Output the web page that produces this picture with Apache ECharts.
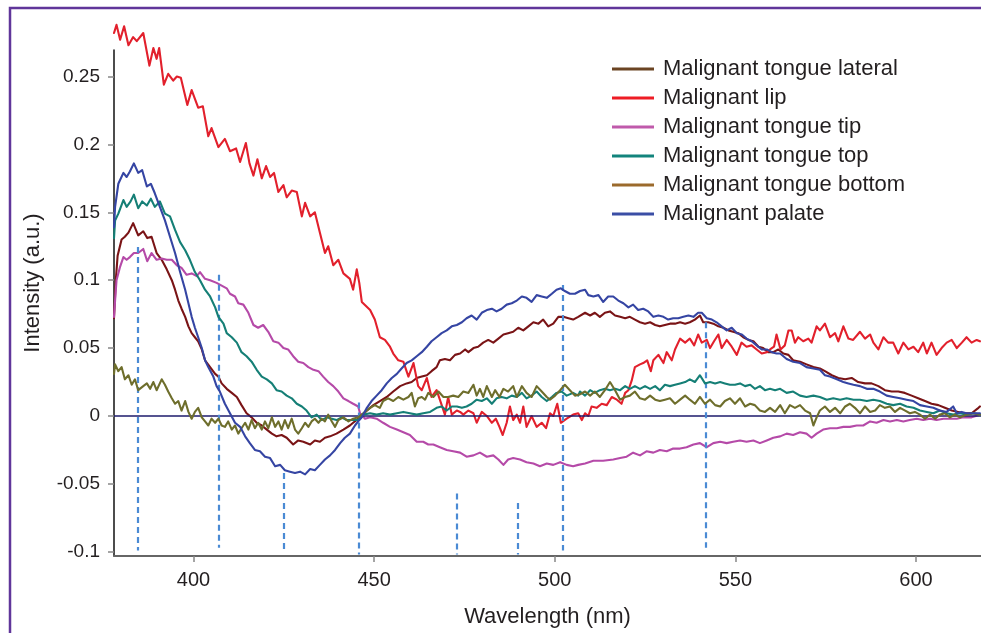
<!DOCTYPE html>
<html>
<head>
<meta charset="utf-8">
<script src="https://cdn.jsdelivr.net/npm/echarts@6/dist/echarts.min.js"></script>
<style>
html,body{margin:0;padding:0;background:#fff;}
#chart{width:981px;height:633px;}
</style>
</head>
<body>
<div id="chart"></div>
<script>
// ---- Data (wavelength nm, intensity a.u.) ----
const seriesNames = ['Malignant tongue lateral','Malignant lip','Malignant tongue tip','Malignant tongue top','Malignant tongue bottom','Malignant palate'];
const lineColors = ['#7a1416','#e2202c','#b54aa8','#157f76','#6e6e2c','#3545a3'];
const legendColors = ['#6b4423','#ee1c25','#c05aab','#12847c','#9b6a2c','#3b4ea5'];
const xTickValues = [400,450,500,550,600];
const yTickValues = [-0.1,-0.05,0,0.05,0.1,0.15,0.2,0.25];

// dashed marker lines: wavelength, top value, bottom value
const markerNm = [384.7,406.9,425.1,445.7,472.8,489.9,502.2,541.9];
const markerTop = [0.1245,0.104,-0.042,0.010,-0.057,-0.064,0.0965,0.069];
const markerBottom = [-0.099,-0.097,-0.099,-0.102,-0.102,-0.102,-0.099,-0.097];

const lateral = [[378.0,0.072],[378.5,0.100],[379.0,0.118],[380.1,0.130],[381.0,0.132],[382.0,0.135],[383.3,0.142],[384.7,0.133],[386.1,0.136],[387.2,0.131],[388.4,0.132],[389.8,0.120],[391.2,0.115],[392.6,0.108],[394.0,0.100],[394.9,0.093],[395.8,0.085],[396.7,0.079],[397.7,0.073],[398.6,0.066],[399.5,0.061],[400.4,0.058],[401.3,0.055],[402.3,0.049],[403.2,0.041],[404.6,0.036],[406.0,0.031],[406.9,0.029],[407.8,0.024],[409.2,0.020],[410.6,0.017],[412.0,0.014],[413.3,0.008],[414.7,0.002],[416.1,-0.001],[417.5,-0.005],[418.9,-0.007],[420.3,-0.010],[421.7,-0.013],[423.0,-0.015],[424.4,-0.014],[425.8,-0.016],[427.6,-0.021],[429.0,-0.018],[430.4,-0.019],[432.3,-0.021],[433.6,-0.018],[435.0,-0.019],[436.4,-0.016],[437.8,-0.015],[439.6,-0.013],[441.5,-0.010],[443.3,-0.007],[444.2,-0.005],[446.1,-0.001],[448.0,0.004],[449.8,0.008],[451.6,0.011],[453.5,0.014],[455.3,0.018],[457.2,0.022],[459.0,0.024],[460.4,0.025],[461.8,0.028],[463.2,0.029],[464.6,0.030],[465.9,0.033],[467.3,0.036],[468.2,0.041],[469.6,0.042],[471.0,0.041],[472.4,0.045],[473.8,0.046],[475.2,0.049],[476.1,0.047],[477.5,0.050],[478.8,0.051],[480.2,0.054],[481.6,0.056],[483.0,0.054],[484.4,0.057],[485.8,0.060],[487.1,0.061],[488.5,0.062],[489.9,0.065],[491.3,0.063],[492.7,0.066],[494.1,0.069],[495.5,0.068],[496.8,0.071],[498.2,0.066],[499.6,0.068],[501.0,0.073],[502.4,0.073],[503.8,0.072],[505.1,0.071],[506.5,0.073],[508.4,0.076],[509.8,0.074],[511.1,0.076],[512.5,0.073],[513.9,0.076],[515.3,0.077],[516.7,0.074],[518.1,0.073],[519.5,0.072],[520.8,0.073],[522.2,0.071],[523.6,0.069],[525.0,0.068],[526.4,0.069],[527.8,0.067],[529.1,0.066],[530.5,0.067],[531.9,0.068],[533.3,0.068],[534.7,0.069],[536.1,0.068],[537.4,0.069],[538.8,0.071],[540.2,0.074],[541.1,0.069],[542.5,0.069],[543.9,0.068],[545.3,0.066],[546.7,0.065],[548.1,0.063],[549.4,0.062],[550.8,0.061],[552.2,0.058],[553.6,0.056],[555.0,0.055],[556.4,0.051],[557.7,0.050],[559.1,0.047],[560.5,0.047],[561.9,0.049],[563.3,0.046],[564.7,0.045],[566.0,0.041],[567.9,0.040],[569.7,0.038],[571.6,0.036],[573.4,0.035],[574.8,0.033],[576.7,0.030],[578.5,0.028],[580.4,0.027],[582.2,0.028],[584.0,0.025],[585.9,0.024],[587.7,0.024],[589.6,0.022],[591.4,0.019],[593.3,0.018],[595.1,0.018],[596.9,0.017],[598.8,0.015],[600.6,0.013],[602.5,0.011],[604.3,0.009],[606.2,0.008],[608.0,0.006],[609.9,0.004],[611.7,0.003],[613.6,0.002],[615.4,0.002],[617.3,0.006],[617.7,0.007]];

const lip = [[378.0,0.282],[378.7,0.288],[379.7,0.277],[380.8,0.287],[382.0,0.273],[383.3,0.279],[384.3,0.276],[386.1,0.282],[387.8,0.258],[388.9,0.271],[389.8,0.263],[390.5,0.271],[391.8,0.244],[393.0,0.252],[394.4,0.247],[395.4,0.250],[396.5,0.249],[398.3,0.229],[399.5,0.240],[401.3,0.227],[402.6,0.228],[404.1,0.206],[405.0,0.212],[406.9,0.198],[408.7,0.204],[410.1,0.195],[411.8,0.197],[412.9,0.187],[414.5,0.201],[415.5,0.186],[416.6,0.177],[417.7,0.189],[418.9,0.175],[420.1,0.184],[421.2,0.176],[422.3,0.179],[423.5,0.165],[424.9,0.170],[425.8,0.161],[427.2,0.166],[428.6,0.165],[430.0,0.147],[430.9,0.157],[432.3,0.147],[433.6,0.150],[435.0,0.135],[436.4,0.120],[437.3,0.125],[438.7,0.111],[440.1,0.115],[441.5,0.105],[443.3,0.101],[444.2,0.093],[445.2,0.108],[445.9,0.098],[446.6,0.084],[448.9,0.078],[450.2,0.071],[451.6,0.058],[453.0,0.056],[454.4,0.051],[455.3,0.046],[456.7,0.041],[458.1,0.040],[459.5,0.029],[460.9,0.039],[462.2,0.022],[463.2,0.019],[464.6,0.028],[465.9,0.014],[467.3,0.019],[468.2,0.012],[469.6,0.001],[470.5,0.014],[471.5,0.001],[472.9,0.004],[473.8,0.003],[474.7,0.001],[476.1,0.004],[477.5,0.002],[478.4,-0.005],[479.8,0.003],[481.2,0.000],[482.6,-0.005],[483.7,-0.002],[484.7,-0.008],[485.6,-0.014],[486.7,-0.005],[487.6,0.007],[488.5,-0.003],[489.5,0.001],[490.4,-0.005],[491.3,0.007],[492.2,-0.008],[493.6,0.000],[495.0,-0.008],[496.4,-0.005],[497.6,-0.009],[498.7,0.002],[499.6,0.000],[500.7,0.009],[501.7,-0.005],[503.3,-0.002],[505.1,0.001],[506.5,0.002],[507.5,-0.003],[508.4,0.002],[509.3,0.000],[510.2,0.007],[511.6,0.006],[513.0,0.009],[514.4,0.008],[515.8,0.014],[517.2,0.012],[518.5,0.009],[519.5,0.017],[520.4,0.019],[521.3,0.026],[522.2,0.036],[523.6,0.038],[524.5,0.039],[525.6,0.041],[526.6,0.033],[527.3,0.041],[528.7,0.045],[530.1,0.039],[531.0,0.047],[532.4,0.041],[533.3,0.049],[534.7,0.057],[536.1,0.054],[537.4,0.057],[538.6,0.052],[539.7,0.060],[540.7,0.054],[542.1,0.056],[543.0,0.050],[544.1,0.055],[545.3,0.060],[546.2,0.050],[547.6,0.056],[549.0,0.051],[550.4,0.045],[551.7,0.054],[553.1,0.051],[554.5,0.052],[555.9,0.049],[557.3,0.046],[558.7,0.047],[559.6,0.049],[560.7,0.051],[561.4,0.060],[562.5,0.049],[563.7,0.052],[564.7,0.063],[565.6,0.063],[566.5,0.054],[567.4,0.058],[568.8,0.055],[570.2,0.057],[571.1,0.054],[572.5,0.066],[573.4,0.063],[574.8,0.068],[576.2,0.058],[577.6,0.061],[578.5,0.055],[579.9,0.066],[581.3,0.057],[582.6,0.056],[584.5,0.062],[585.9,0.057],[587.3,0.060],[588.2,0.054],[589.6,0.049],[591.0,0.058],[592.3,0.054],[593.7,0.054],[595.1,0.046],[596.5,0.054],[597.9,0.049],[599.3,0.051],[600.6,0.047],[602.0,0.054],[603.0,0.046],[604.3,0.054],[605.7,0.045],[607.1,0.050],[608.5,0.054],[609.9,0.056],[611.3,0.050],[612.7,0.054],[614.0,0.058],[615.4,0.054],[616.8,0.056],[617.7,0.055]];

const tip = [[378.0,0.073],[378.3,0.085],[378.7,0.100],[379.7,0.110],[380.6,0.117],[381.5,0.115],[382.4,0.117],[383.5,0.120],[384.7,0.120],[386.1,0.123],[387.2,0.114],[388.4,0.120],[389.8,0.115],[391.2,0.116],[392.6,0.115],[394.0,0.115],[395.4,0.111],[396.7,0.109],[398.1,0.104],[399.5,0.105],[400.9,0.103],[401.8,0.106],[403.2,0.101],[404.6,0.100],[406.4,0.098],[407.8,0.096],[409.2,0.094],[410.1,0.090],[411.5,0.088],[412.4,0.083],[413.8,0.082],[415.2,0.076],[416.6,0.067],[417.9,0.065],[419.3,0.067],[420.7,0.062],[422.1,0.055],[423.5,0.054],[424.9,0.050],[426.2,0.049],[427.6,0.044],[429.0,0.040],[430.4,0.039],[431.8,0.036],[433.2,0.034],[434.6,0.033],[435.9,0.029],[437.3,0.025],[438.7,0.022],[440.1,0.018],[441.5,0.013],[442.9,0.011],[444.2,0.009],[445.6,0.007],[446.1,0.002],[447.5,-0.002],[448.9,-0.001],[450.7,-0.002],[452.5,-0.005],[454.4,-0.008],[456.3,-0.010],[458.1,-0.012],[459.9,-0.014],[461.8,-0.019],[463.6,-0.019],[465.0,-0.021],[466.4,-0.021],[468.2,-0.023],[470.1,-0.025],[471.9,-0.026],[473.8,-0.027],[475.6,-0.030],[477.5,-0.029],[479.3,-0.027],[481.2,-0.030],[483.0,-0.029],[484.4,-0.032],[485.8,-0.036],[487.1,-0.032],[488.5,-0.031],[490.4,-0.032],[492.2,-0.034],[494.1,-0.035],[495.9,-0.037],[497.8,-0.035],[499.6,-0.036],[501.5,-0.034],[503.3,-0.036],[505.1,-0.037],[506.5,-0.036],[508.4,-0.035],[510.7,-0.033],[513.4,-0.033],[516.2,-0.032],[518.1,-0.031],[519.9,-0.030],[521.7,-0.027],[523.6,-0.029],[525.4,-0.026],[527.3,-0.027],[529.1,-0.025],[531.0,-0.026],[532.8,-0.024],[534.7,-0.024],[536.5,-0.023],[538.4,-0.021],[540.2,-0.020],[542.1,-0.023],[543.9,-0.020],[545.8,-0.019],[547.6,-0.020],[549.4,-0.019],[551.3,-0.018],[553.1,-0.019],[555.0,-0.018],[556.8,-0.020],[558.7,-0.018],[560.5,-0.016],[562.4,-0.015],[564.2,-0.013],[566.0,-0.014],[567.9,-0.012],[569.7,-0.013],[571.1,-0.016],[572.5,-0.013],[574.3,-0.010],[576.2,-0.009],[578.1,-0.009],[579.9,-0.008],[581.7,-0.008],[583.6,-0.007],[585.4,-0.007],[587.3,-0.004],[589.1,-0.005],[591.0,-0.003],[592.8,-0.004],[594.7,-0.003],[596.5,-0.004],[598.3,-0.003],[600.2,-0.002],[602.0,-0.003],[603.9,-0.002],[605.7,-0.003],[607.6,-0.002],[609.4,-0.002],[611.3,-0.002],[613.1,-0.001],[615.4,-0.001],[617.7,0.001]];

const top_ = [[378.0,0.131],[378.3,0.144],[379.2,0.149],[380.6,0.159],[381.5,0.154],[382.6,0.158],[383.5,0.163],[384.7,0.153],[385.8,0.158],[387.1,0.155],[388.2,0.160],[389.3,0.154],[390.7,0.158],[392.1,0.149],[393.5,0.147],[394.9,0.137],[396.3,0.128],[397.7,0.122],[399.0,0.115],[400.4,0.106],[401.8,0.100],[403.2,0.093],[404.6,0.088],[406.0,0.080],[406.9,0.073],[408.3,0.068],[409.2,0.061],[410.6,0.058],[412.0,0.054],[413.3,0.047],[414.7,0.044],[416.1,0.040],[417.5,0.034],[418.9,0.029],[420.3,0.027],[421.7,0.024],[423.0,0.019],[424.4,0.018],[425.8,0.015],[427.2,0.013],[428.6,0.009],[430.0,0.007],[431.3,0.004],[432.7,-0.001],[434.1,0.001],[435.5,-0.003],[436.9,-0.001],[438.3,-0.002],[439.6,-0.003],[441.0,-0.001],[442.4,-0.003],[443.8,-0.003],[445.6,-0.003],[447.0,0.001],[448.9,0.002],[450.7,0.001],[452.5,0.002],[454.4,0.001],[456.3,0.002],[458.1,0.003],[459.9,0.002],[461.8,0.001],[463.6,0.002],[465.5,0.003],[467.3,0.006],[468.7,0.007],[470.1,0.004],[471.5,0.007],[472.9,0.007],[474.3,0.006],[475.6,0.007],[477.0,0.009],[478.4,0.012],[479.8,0.011],[481.2,0.013],[482.6,0.009],[483.9,0.013],[485.3,0.014],[486.7,0.013],[488.1,0.015],[489.5,0.014],[490.9,0.017],[492.2,0.013],[493.6,0.015],[495.0,0.018],[496.4,0.014],[497.8,0.011],[499.2,0.014],[500.5,0.017],[501.9,0.018],[503.3,0.015],[505.1,0.017],[506.5,0.015],[507.0,0.018],[508.4,0.015],[509.8,0.019],[511.1,0.017],[512.5,0.019],[513.9,0.020],[515.3,0.019],[516.7,0.020],[518.1,0.019],[519.5,0.022],[520.8,0.020],[522.2,0.022],[523.6,0.020],[525.0,0.022],[526.4,0.020],[527.8,0.022],[529.1,0.019],[530.5,0.023],[531.9,0.022],[533.3,0.023],[534.7,0.024],[536.1,0.025],[537.4,0.027],[538.8,0.025],[540.2,0.030],[541.6,0.024],[543.0,0.025],[544.4,0.024],[545.8,0.025],[547.1,0.024],[548.5,0.023],[549.9,0.023],[551.3,0.024],[552.7,0.022],[554.1,0.023],[555.4,0.020],[556.8,0.022],[558.2,0.019],[559.6,0.020],[561.0,0.019],[562.4,0.020],[564.2,0.017],[566.0,0.018],[567.9,0.015],[569.7,0.014],[571.6,0.015],[573.4,0.014],[575.3,0.012],[577.1,0.013],[579.0,0.012],[580.8,0.013],[582.7,0.012],[584.5,0.012],[586.4,0.011],[588.2,0.012],[590.0,0.011],[591.9,0.009],[593.7,0.008],[595.6,0.009],[597.4,0.007],[599.3,0.006],[601.1,0.004],[603.0,0.003],[604.8,0.002],[606.6,0.004],[608.5,0.002],[610.3,0.001],[612.2,0.002],[614.0,0.001],[615.8,0.002],[617.7,0.001]];

const bottom_ = [[378.0,0.031],[378.3,0.038],[379.2,0.033],[380.1,0.036],[381.0,0.027],[382.0,0.030],[382.9,0.023],[383.8,0.027],[384.7,0.019],[386.1,0.022],[387.1,0.024],[388.0,0.020],[388.9,0.025],[389.8,0.019],[391.2,0.027],[392.1,0.023],[393.0,0.018],[394.0,0.013],[394.9,0.009],[395.8,0.011],[396.7,0.004],[397.7,0.011],[398.6,0.003],[399.5,-0.002],[400.4,0.003],[401.3,0.006],[402.3,-0.001],[403.2,-0.004],[404.1,-0.007],[405.0,-0.002],[406.0,-0.005],[406.9,-0.002],[407.8,-0.007],[408.7,-0.008],[409.6,-0.004],[410.6,-0.010],[411.5,-0.007],[412.4,-0.013],[413.3,-0.009],[414.3,-0.005],[415.2,-0.010],[416.1,-0.003],[417.0,-0.009],[417.9,-0.005],[418.9,-0.010],[419.8,-0.004],[420.7,-0.009],[421.7,-0.001],[422.6,-0.008],[423.5,-0.004],[424.4,-0.010],[425.3,-0.003],[426.2,-0.009],[427.2,-0.002],[428.1,-0.010],[429.0,-0.013],[430.0,-0.009],[430.9,-0.005],[431.8,-0.008],[432.7,-0.004],[433.6,-0.002],[434.6,-0.005],[435.5,-0.002],[436.4,-0.004],[437.3,0.001],[438.3,-0.004],[439.2,-0.008],[440.1,-0.003],[441.5,-0.001],[442.9,-0.004],[444.2,-0.002],[445.6,-0.001],[446.1,-0.001],[447.5,0.003],[448.9,0.006],[450.2,0.008],[451.6,0.006],[452.5,0.011],[453.9,0.013],[455.3,0.011],[456.7,0.014],[458.1,0.012],[459.5,0.014],[460.4,0.017],[461.3,0.007],[462.2,0.013],[463.2,0.014],[464.1,0.012],[465.0,0.017],[466.4,0.014],[467.8,0.018],[469.2,0.014],[470.5,0.014],[471.9,0.015],[473.3,0.014],[474.7,0.018],[476.1,0.017],[477.5,0.023],[478.4,0.015],[479.3,0.020],[480.2,0.014],[481.2,0.022],[482.6,0.014],[483.5,0.019],[484.7,0.014],[485.8,0.020],[487.1,0.018],[488.5,0.022],[489.5,0.014],[490.9,0.022],[492.2,0.017],[493.6,0.014],[495.0,0.022],[496.4,0.018],[497.8,0.014],[498.7,0.012],[500.1,0.015],[501.5,0.019],[502.8,0.023],[504.2,0.019],[505.6,0.015],[507.0,0.016],[508.4,0.018],[509.8,0.015],[511.1,0.018],[512.5,0.014],[513.9,0.019],[515.3,0.025],[516.7,0.019],[518.1,0.012],[519.5,0.014],[520.8,0.015],[522.2,0.018],[523.6,0.013],[525.0,0.012],[526.4,0.015],[527.8,0.012],[529.1,0.011],[530.5,0.012],[531.9,0.013],[533.3,0.009],[534.7,0.012],[536.1,0.015],[537.4,0.012],[538.8,0.009],[540.2,0.014],[541.6,0.009],[543.0,0.012],[544.4,0.008],[545.8,0.007],[547.1,0.011],[548.5,0.013],[549.9,0.009],[551.3,0.013],[552.7,0.007],[554.1,0.009],[555.4,0.008],[556.8,0.004],[558.2,0.003],[559.6,0.006],[561.0,0.003],[562.4,0.008],[563.7,0.002],[565.1,0.008],[566.5,0.006],[567.9,0.008],[569.3,0.004],[570.7,0.002],[571.6,-0.007],[572.5,-0.001],[573.4,0.004],[574.8,0.007],[576.2,0.003],[577.6,0.006],[579.0,0.002],[580.4,0.007],[581.7,0.009],[583.1,0.006],[584.5,0.002],[585.9,0.007],[587.3,0.003],[588.7,0.004],[590.0,0.008],[591.4,0.006],[592.8,0.007],[594.2,0.003],[595.6,0.006],[597.0,0.004],[598.3,0.002],[599.7,0.003],[601.1,0.001],[602.5,-0.002],[603.9,0.001],[605.3,-0.002],[606.6,0.001],[608.0,0.002],[609.4,-0.001],[610.8,0.001],[612.2,-0.001],[614.0,0.001],[615.8,0.002],[617.7,0.001]];

const palate = [[378.0,0.139],[378.3,0.154],[379.2,0.171],[380.6,0.179],[381.5,0.176],[382.4,0.180],[383.5,0.186],[384.7,0.179],[385.8,0.181],[387.1,0.169],[388.2,0.171],[389.3,0.164],[390.7,0.154],[392.1,0.144],[393.5,0.132],[394.9,0.120],[396.3,0.106],[397.7,0.093],[398.6,0.083],[399.5,0.073],[400.4,0.065],[401.3,0.058],[402.3,0.050],[403.2,0.041],[404.1,0.036],[405.5,0.029],[406.4,0.022],[407.3,0.018],[408.7,0.009],[410.1,0.002],[411.5,-0.005],[412.9,-0.008],[414.3,-0.015],[415.6,-0.020],[417.0,-0.025],[418.4,-0.026],[419.8,-0.030],[421.2,-0.031],[422.6,-0.037],[424.0,-0.036],[425.3,-0.040],[426.7,-0.041],[428.1,-0.042],[429.5,-0.041],[430.9,-0.043],[432.3,-0.039],[433.6,-0.040],[435.0,-0.036],[436.4,-0.032],[437.8,-0.029],[439.2,-0.025],[440.6,-0.020],[441.9,-0.016],[443.3,-0.013],[444.7,-0.007],[445.6,-0.004],[446.6,-0.001],[448.0,0.006],[449.3,0.011],[450.7,0.015],[452.1,0.019],[453.5,0.024],[454.9,0.028],[456.3,0.031],[457.6,0.035],[459.0,0.039],[460.4,0.041],[461.8,0.044],[463.2,0.047],[464.6,0.051],[465.9,0.055],[467.3,0.058],[468.7,0.061],[470.1,0.063],[471.5,0.066],[472.9,0.067],[474.3,0.069],[475.6,0.072],[477.0,0.074],[478.4,0.071],[479.8,0.076],[481.2,0.078],[482.6,0.079],[483.9,0.077],[485.3,0.079],[486.7,0.082],[488.1,0.083],[489.5,0.085],[490.9,0.088],[492.2,0.087],[493.6,0.084],[495.0,0.089],[496.4,0.088],[497.8,0.087],[499.2,0.090],[500.5,0.093],[501.7,0.094],[502.8,0.092],[504.2,0.090],[505.6,0.090],[507.0,0.092],[508.4,0.093],[509.3,0.089],[510.7,0.088],[512.1,0.089],[513.4,0.084],[514.8,0.088],[516.2,0.088],[517.6,0.085],[519.0,0.083],[520.4,0.080],[521.7,0.082],[523.1,0.078],[524.5,0.079],[525.9,0.077],[527.3,0.073],[528.7,0.074],[530.1,0.073],[531.4,0.071],[532.8,0.072],[534.2,0.072],[535.6,0.073],[537.0,0.074],[538.4,0.073],[539.7,0.076],[540.7,0.076],[542.1,0.072],[543.5,0.071],[544.8,0.069],[546.2,0.066],[547.6,0.063],[549.0,0.065],[550.4,0.061],[551.8,0.060],[553.1,0.057],[554.5,0.055],[555.9,0.052],[557.3,0.049],[558.7,0.049],[560.1,0.047],[561.4,0.046],[562.4,0.046],[564.2,0.042],[566.0,0.040],[567.9,0.039],[569.7,0.036],[571.6,0.035],[573.4,0.034],[574.8,0.030],[576.2,0.029],[578.1,0.027],[579.9,0.025],[581.3,0.024],[582.7,0.023],[584.5,0.022],[586.4,0.020],[588.2,0.020],[590.0,0.018],[591.9,0.015],[593.7,0.014],[595.6,0.013],[597.4,0.012],[599.3,0.011],[601.1,0.008],[603.0,0.007],[604.8,0.006],[606.6,0.004],[608.5,0.003],[610.3,0.007],[611.3,0.002],[612.6,0.003],[614.0,0.002],[615.8,0.002],[617.7,0.002]];

const seriesData = [lateral, lip, tip, top_, bottom_, palate];

// ---- Chart ----
const chart = echarts.init(document.getElementById('chart'), null, {renderer:'canvas'});
const FONT = 'Liberation Sans, Arial, sans-serif';

const markerLines = markerNm.map((x,i)=>[{coord:[x, markerTop[i]]},{coord:[x, markerBottom[i]]}]);

const series = [{
  name:'__guides', type:'line', data:[[378,0]], symbol:'none', silent:true,
  lineStyle:{opacity:0}, z:1,
  markLine:{
    silent:true, symbol:['none','none'], label:{show:false}, animation:false,
    data:[
      {yAxis:0, lineStyle:{color:'#1c1a6b', width:1.5, type:'solid'}},
      ...markerLines
    ],
    lineStyle:{color:'#4a8ad4', width:2.2, type:[6,4]}
  }
}];
seriesNames.forEach((n,i)=>{
  series.push({
    name:n, type:'line', data:seriesData[i], symbol:'none', clip:false,
    lineStyle:{color:lineColors[i], width:2.1, join:'round', cap:'round'}, itemStyle:{color:lineColors[i]},
    z:2+i, animation:false
  });
});

chart.setOption({
  animation:false,
  backgroundColor:'#ffffff',
  grid:{left:114, right:0, top:50, bottom:77, containLabel:false},
  legend:{
    orient:'vertical', left:612, top:58, padding:0, itemGap:7,
    itemWidth:42, itemHeight:3, icon:'rect',
    textStyle:{fontFamily:FONT, fontSize:22, color:'#231f20', lineHeight:22, padding:[0,0,0,4]},
    data:seriesNames.map((n,i)=>({name:n, itemStyle:{color:legendColors[i]}}))
  },
  xAxis:{
    type:'value', min:378, max:618,
    name:'Wavelength (nm)', nameLocation:'middle', nameGap:50,
    nameTextStyle:{fontFamily:FONT, fontSize:22, color:'#231f20'},
    axisLine:{show:true, onZero:false, lineStyle:{color:'#666', width:2}},
    axisTick:{show:true, length:6, lineStyle:{color:'#888', width:1.5}, customValues:xTickValues},
    axisLabel:{fontFamily:FONT, fontSize:20, color:'#231f20', margin:14, customValues:xTickValues},
    splitLine:{show:false}
  },
  yAxis:{
    type:'value', min:-0.1031, max:0.2695,
    axisLine:{show:true, onZero:false, lineStyle:{color:'#111', width:1.5}},
    axisTick:{show:true, length:6, lineStyle:{color:'#888', width:1.5}, customValues:yTickValues},
    axisLabel:{fontFamily:FONT, fontSize:19, color:'#231f20', margin:14, customValues:yTickValues},
    splitLine:{show:false}
  },
  graphic:[
    {type:'rect', shape:{x:10, y:8, width:1100, height:800}, style:{fill:'none', stroke:'#60369a', lineWidth:2.5}, silent:true, z:100},
    {type:'text', x:33, y:283, rotation:Math.PI/2, style:{text:'Intensity (a.u.)', fontFamily:FONT, fontSize:22, fill:'#231f20', textAlign:'center', textVerticalAlign:'middle'}, silent:true}
  ],
  series:series
});
</script>
</body>
</html>
